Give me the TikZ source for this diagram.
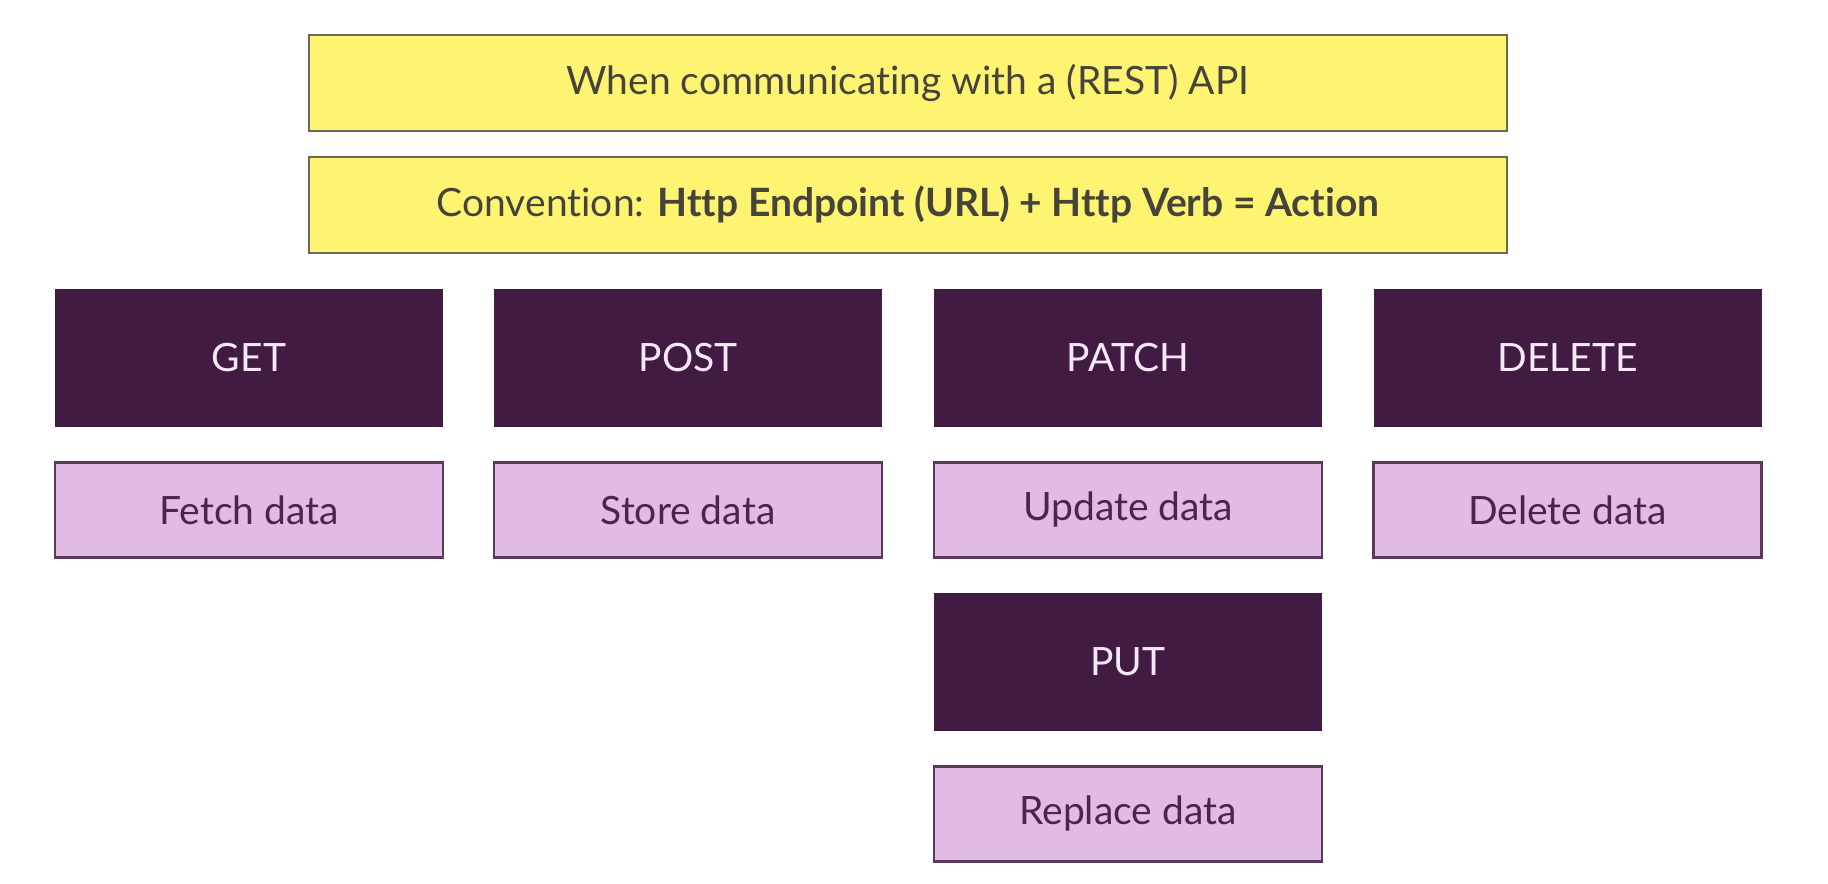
\documentclass[tikz,border=0pt]{standalone}
\usepackage{fontspec}
\setmainfont{Lato}[Ligatures=NoCommon]
\usetikzlibrary{positioning}
\definecolor{noteyellow}{HTML}{FFF372}
\definecolor{noteline}{HTML}{6B6A55}
\definecolor{notetext}{HTML}{45443A}
\definecolor{verbpurple}{HTML}{421B42}
\definecolor{verbtext}{HTML}{F6E8F6}
\definecolor{datapink}{HTML}{E2BAE6}
\definecolor{dataline}{HTML}{5A3A5A}
\definecolor{datatext}{HTML}{4A2648}
\tikzset{
  note/.style={draw=noteline, fill=noteyellow, line width=0.7pt, minimum width=11.98cm, minimum height=0.96cm, text=notetext, font=\fontsize{11.1}{13}\selectfont},
  verb/.style={fill=verbpurple, minimum width=3.88cm, minimum height=1.38cm, text=verbtext, font=\fontsize{11.1}{13}\selectfont},
  action/.style={draw=dataline, fill=datapink, line width=0.7pt, minimum width=3.88cm, minimum height=0.95cm, text=datatext, font=\fontsize{11.1}{13}\selectfont}
}
\begin{document}
\begin{tikzpicture}
        \useasboundingbox (0,0) rectangle (18.28,8.84);
        \node[note] (rest) at (9.08,8.01) {When communicating with a (REST) API};
        \node[note, below=0.235cm of rest] (conv) {Convention: \textbf{Http Endpoint (URL) + Http Verb = Action}};

        \node[verb] (get) at (2.49,5.26) {GET};
        \node[verb] (post) at (6.88,5.26) {POST};
        \node[verb] (patch) at (11.28,5.26) {PATCH};
        \node[verb] (delete) at (15.675,5.26) {DELETE};

        \node[action, below=0.335cm of get] (fetch) {Fetch data};
        \node[action, below=0.335cm of post] (store) {Store data};
        \node[action, below=0.335cm of patch] (update) {Update data};
        \node[action, below=0.335cm of delete] (remove) {Delete data};

        \node[verb, below=0.335cm of update] (put) {PUT};
        \node[action, below=0.335cm of put] (replace) {Replace data};
\end{tikzpicture}
\end{document}
